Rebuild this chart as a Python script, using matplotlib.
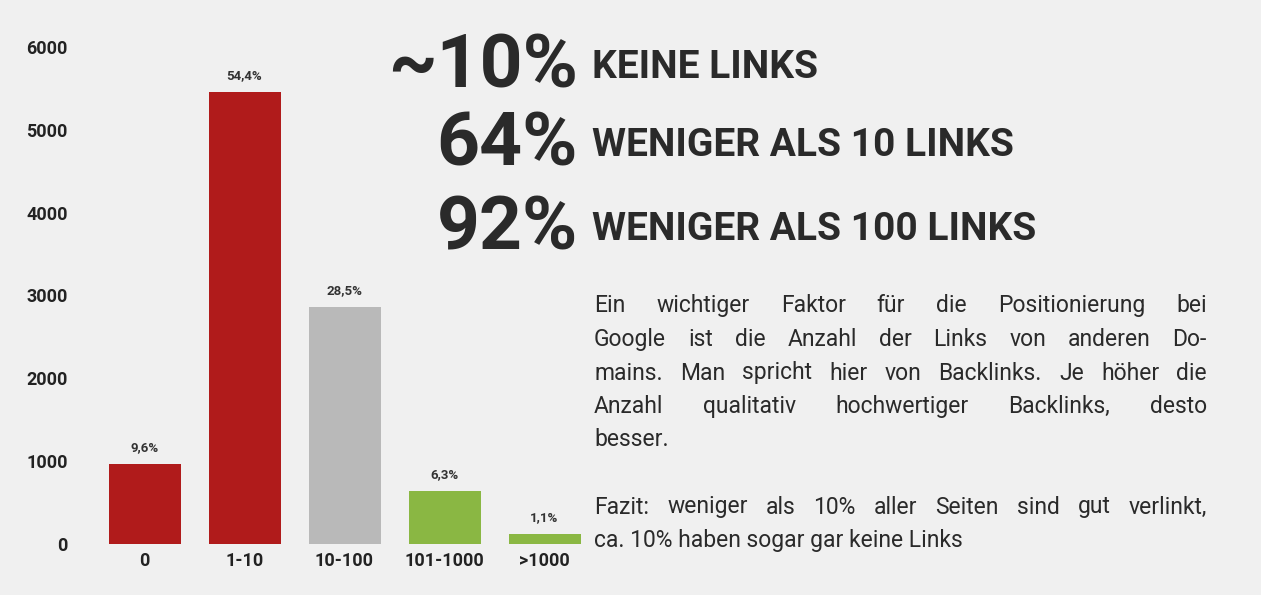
import matplotlib
matplotlib.use("Agg")
import matplotlib.pyplot as plt

categories = ["0", "1-10", "10-100", "101-1000", ">1000"]
values = [966, 5458, 2862, 640, 121]
labels = ["9,6%", "54,4%", "28,5%", "6,3%", "1,1%"]
colors = ["#b01b1b", "#b01b1b", "#b9b9b9", "#8ab743", "#8ab743"]
yticks = [0, 1000, 2000, 3000, 4000, 5000, 6000]

big_nums = ["~10%", "64%", "92%"]
big_texts = ["KEINE LINKS", "WENIGER ALS 10 LINKS", "WENIGER ALS 100 LINKS"]
para_lines = [
    "Ein wichtiger Faktor für die Positionierung bei",
    "Google ist die Anzahl der Links von anderen Do-",
    "mains. Man spricht hier von Backlinks. Je höher die",
    "Anzahl qualitativ hochwertiger Backlinks, desto",
    "besser.",
    "",
    "Fazit: weniger als 10% aller Seiten sind gut verlinkt,",
    "ca. 10% haben sogar gar keine Links",
]
justify = [True, True, True, True, False, False, True, False]

bg = "#f0f0f0"
fig = plt.figure(figsize=(12.61, 5.95), dpi=100, facecolor=bg)
ax = fig.add_axes([84.5/1261, 51/595, 520/1261, 497/595], facecolor=bg)
x = range(len(categories))
ax.bar(x, values, width=0.72, color=colors)
for i, (v, l) in enumerate(zip(values, labels)):
    ax.text(i, v + 120, l, ha="center", va="bottom", fontsize=9.5, fontweight="bold",
            color="#333333", family="Roboto")
ax.set_xlim(-0.6, 4.6)
ax.set_ylim(0, 6000)
ax.set_yticks(yticks)
ax.set_yticklabels([str(t) for t in yticks], fontsize=13, fontweight="bold", color="#222222", family="Roboto")
ax.set_xticks(list(x))
ax.set_xticklabels(categories, fontsize=13, fontweight="bold", color="#222222", family="Roboto")
ax.tick_params(length=0, pad=6)
ax.tick_params(axis="y", pad=12)
for s in ax.spines.values():
    s.set_visible(False)

ys = [68, 145, 230]
for y, n, t in zip(ys, big_nums, big_texts):
    fig.text(578/1261, 1 - y/595, n, ha="right", va="center", fontsize=54, fontweight="bold",
             color="#2a2a2a", family="Roboto")
    fig.text(592/1261, 1 - y/595, t, ha="left", va="center", fontsize=28, fontweight="bold",
             color="#2a2a2a", family="Roboto")

renderer = fig.canvas.get_renderer()
x0, x1 = 594, 1207
for i, line in enumerate(para_lines):
    if not line:
        continue
    ypos = 1 - (306 + i*33.5)/595
    kw = dict(ha="left", va="center", fontsize=16.5, color="#2a2a2a", family="Roboto")
    if not justify[i]:
        fig.text(x0/1261, ypos, line, **kw)
        continue
    words = line.split(" ")
    texts = [fig.text(0, ypos, w, **kw) for w in words]
    widths = [t.get_window_extent(renderer).width for t in texts]
    gap = (x1 - x0 - sum(widths)) / (len(words) - 1)
    cx = x0
    for t, w in zip(texts, widths):
        t.set_x(cx/1261)
        cx += w + gap

fig.savefig("out.png", dpi=100, facecolor=bg)
